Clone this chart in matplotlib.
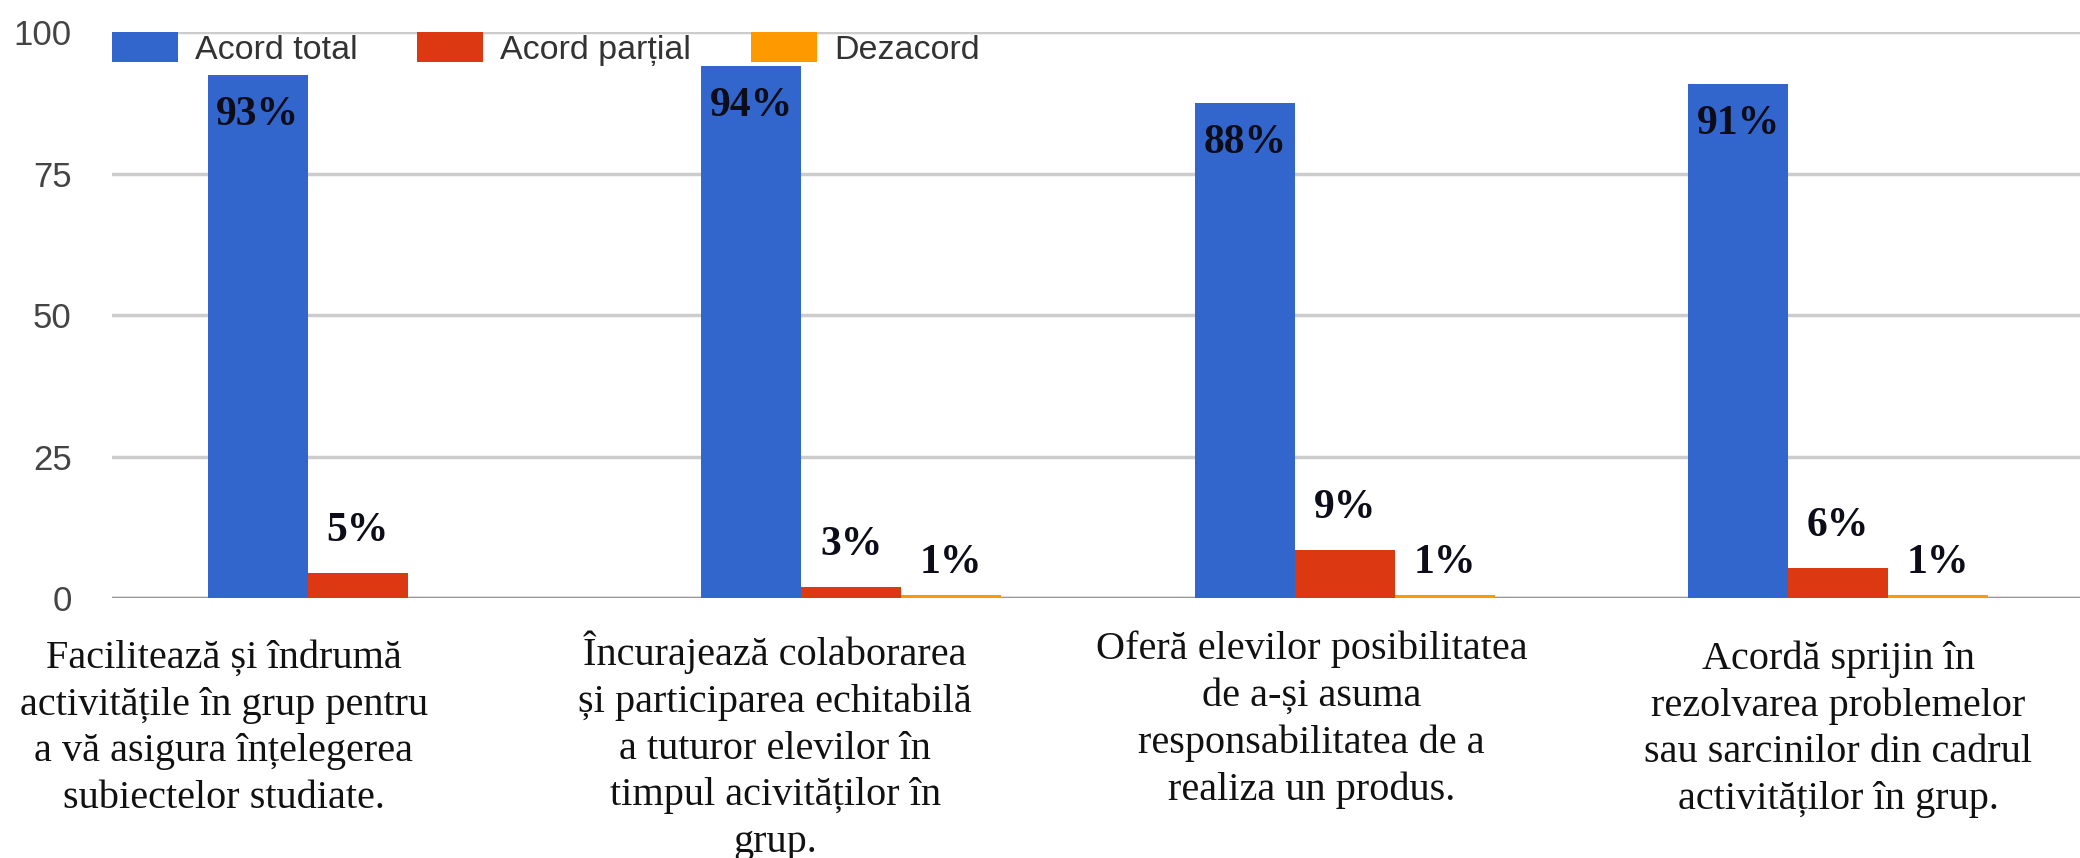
import numpy as np
import matplotlib.pyplot as plt
from matplotlib.transforms import blended_transform_factory

# Data
categories = [
    "Facilitează și îndrumă\nactivitățile în grup pentru\na vă asigura înțelegerea\nsubiectelor studiate.",
    "Încurajează colaborarea\nși participarea echitabilă\na tuturor elevilor în\ntimpul acivităților în\ngrup.",
    "Oferă elevilor posibilitatea\nde a-și asuma\nresponsabilitatea de a\nrealiza un produs.",
    "Acordă sprijin în\nrezolvarea problemelor\nsau sarcinilor din cadrul\nactivităților în grup.",
]
acord_total = [92.4, 94.0, 87.4, 90.8]
acord_partial = [4.4, 2.0, 8.5, 5.3]
dezacord = [0.0, 0.6, 0.6, 0.6]
labels_total = ["93%", "94%", "88%", "91%"]
labels_partial = ["5%", "3%", "9%", "6%"]
labels_dezacord = ["", "1%", "1%", "1%"]

series_names = ["Acord total", "Acord parțial", "Dezacord"]
colors = ["#3366CC", "#DC3912", "#FF9900"]

fig = plt.figure(figsize=(20.8, 8.58), dpi=100)
ax = fig.add_axes([0.0538, 0.303, 0.9462, 0.6597])

x = np.arange(len(categories))
w = 0.2024

bars_t = ax.bar(x - w, acord_total, w, color=colors[0], label=series_names[0], zorder=2)
bars_p = ax.bar(x, acord_partial, w, color=colors[1], label=series_names[1], zorder=2)
bars_d = ax.bar(x + w, dezacord, w, color=colors[2], label=series_names[2], zorder=2)

ax.set_xlim(-0.498, 3.49)
ax.set_ylim(0, 100)
ax.set_yticks([0, 25, 50, 75, 100])
ax.yaxis.grid(True, color="#cccccc", linewidth=2.5)
ax.set_axisbelow(True)
for s in ax.spines.values():
    s.set_visible(False)
ax.axhline(0, color="#999999", linewidth=2.5, zorder=1)
ax.tick_params(axis="y", length=0, pad=29, labelsize=25, labelcolor="#444444")
for t in ax.get_yticklabels():
    t.set_fontfamily("Liberation Sans")
ax.tick_params(axis="x", bottom=False, labelbottom=False)

# value labels
lab_font = dict(fontsize=30, fontweight="bold", family="Liberation Serif",
                color="#0d0d1a", ha="center", va="center")
for bars, labels, dy in [(bars_t, labels_total, -40), (bars_p, labels_partial, 42),
                         (bars_d, labels_dezacord, 32)]:
    for b, lbl in zip(bars, labels):
        if lbl:
            ax.annotate(lbl, (b.get_x() + b.get_width() / 2, b.get_height()),
                        xytext=(0, dy), textcoords="offset pixels", **lab_font)

# category labels under the groups
trans = blended_transform_factory(ax.transData, fig.transFigure)
cat_dx = [-0.271, -0.154, -0.067, 0.0]
cat_top = [0.254, 0.265, 0.265, 0.254]
for i, txt in enumerate(categories):
    ax.text(x[i] + cat_dx[i], cat_top[i], txt, transform=trans, ha="center", va="top",
            fontsize=29, family="Liberation Serif", color="#111111", linespacing=1.34)

ax.legend(loc="upper left", bbox_to_anchor=(0, 1), ncol=3, frameon=False,
          prop={"family": "Liberation Sans", "size": 24.5}, labelcolor="#333333",
          handlelength=1.94, handleheight=1.0, handletextpad=0.5,
          columnspacing=1.76, borderpad=0, borderaxespad=0)

fig.savefig("out.png", dpi=100)
